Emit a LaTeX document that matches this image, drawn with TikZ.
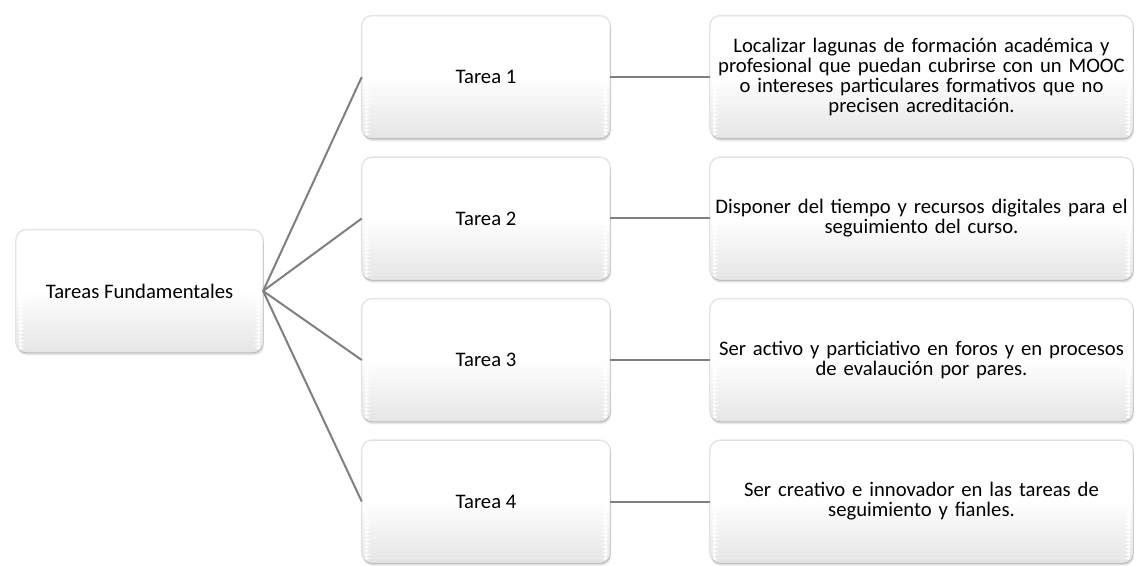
\documentclass[tikz,border=0pt]{standalone}
\usepackage{fontspec}
\setmainfont{Carlito}
\usetikzlibrary{calc}
\definecolor{linegray}{HTML}{7F7F7F}
\tikzset{
  softshadow/.style={
    preaction={draw=black, draw opacity=0.10, line width=1.6pt},
    preaction={fill=black, opacity=0.07, transform canvas={xshift=0.2pt, yshift=-0.6pt}},
    preaction={fill=black, opacity=0.07, transform canvas={xshift=0.4pt, yshift=-1.3pt}},
    preaction={fill=black, opacity=0.07, transform canvas={xshift=0.6pt, yshift=-2.0pt}},
    preaction={fill=black, opacity=0.05, transform canvas={xshift=0.8pt, yshift=-2.8pt}}},
  gradfill/.style={fill=white, path picture={
    \coordinate (gsw) at (path picture bounding box.south west);
    \coordinate (gne) at (path picture bounding box.north east);
    \foreach \j in {0,...,15} {
      \pgfmathsetmacro\g{10*(1-(\j+0.5)/16)}
      \fill[black!\g] ($(gsw)!{\j/32}!(gsw|-gne)$) rectangle ($(gsw-|gne)!{(\j+1.1)/32}!(gne)$);
    }}},
  card/.style={rectangle, rounded corners=7.5pt, inner sep=2pt, softshadow, gradfill,
    draw=black!12, line width=0.4pt,
    font=\fontsize{15.5}{15}\selectfont, align=center, minimum height=91.5pt},
  rootcard/.style={card, minimum width=185pt},
  taskcard/.style={card, minimum width=186pt},
  desccard/.style={card, minimum width=317pt, text width=312pt},
  link/.style={draw=linegray, line width=1.5pt}
}
\begin{document}
\begin{tikzpicture}[x=0.75pt, y=-0.75pt]
\useasboundingbox (0,0) rectangle (1137,566);
\node[rootcard] (root) at (139.5,291) {Tareas Fundamentales};
\node[taskcard] (t1) at (486,77) {Tarea 1};
\node[taskcard] (t2) at (486,218.5) {Tarea 2};
\node[taskcard] (t3) at (486,360) {Tarea 3};
\node[taskcard] (t4) at (486,501.5) {Tarea 4};
\node[desccard] (d1) at (921.5,77) {Localizar lagunas de formación académica y\\profesional que puedan cubrirse con un MOOC\\o intereses particulares formativos que no\\precisen acreditación.};
\node[desccard] (d2) at (921.5,218.5) {Disponer del tiempo y recursos digitales para el\\seguimiento del curso.};
\node[desccard] (d3) at (921.5,360) {Ser activo y particiativo en foros y en procesos\\de evalaución por pares.};
\node[desccard] (d4) at (921.5,501.5) {Ser creativo e innovador en las tareas de\\seguimiento y fianles.};
\foreach \i in {1,2,3,4} {
  \draw[link] (root.east) -- (t\i.west);
  \draw[link] (t\i.east) -- (d\i.west);
}
\end{tikzpicture}
\end{document}
